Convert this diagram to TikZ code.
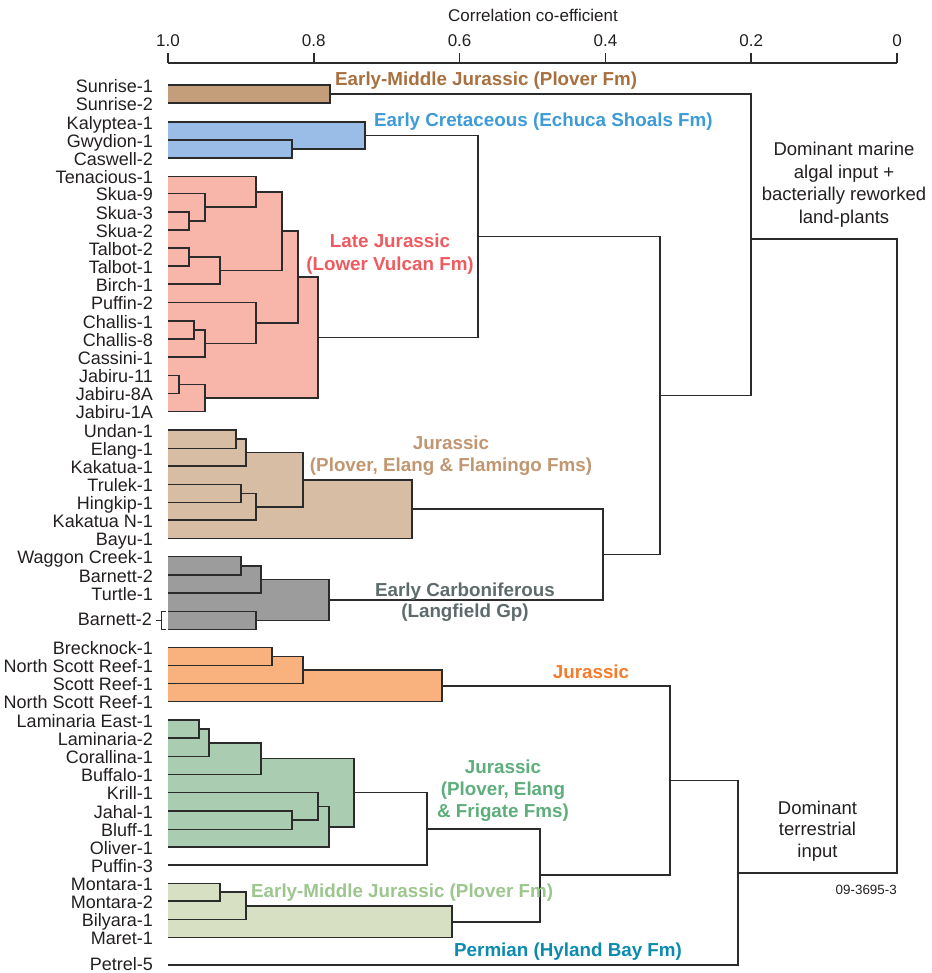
\documentclass[tikz,border=0pt]{standalone}
\usepackage{fontspec}
\setmainfont{Liberation Sans}
\usetikzlibrary{calc}
\pgfdeclarelayer{bg}
\pgfsetlayers{bg,main}
\definecolor{linec}{HTML}{2B2B2B}
\definecolor{txt}{HTML}{231F20}
\definecolor{fSun}{HTML}{C49E7A}
\definecolor{fBlue}{HTML}{99BDE6}
\definecolor{fRed}{HTML}{F8B6AA}
\definecolor{fTan}{HTML}{D6BDA4}
\definecolor{fGrey}{HTML}{9C9C9C}
\definecolor{fOra}{HTML}{F9B27E}
\definecolor{fGrn}{HTML}{AACDB1}
\definecolor{fPale}{HTML}{D7E0C3}
\definecolor{tSun}{HTML}{A8703F}
\definecolor{tBlue}{HTML}{3D9BD8}
\definecolor{tRed}{HTML}{EE5A5F}
\definecolor{tTan}{HTML}{C29670}
\definecolor{tGrey}{HTML}{5E6B6C}
\definecolor{tOra}{HTML}{F47C2C}
\definecolor{tGrn}{HTML}{5DAE7B}
\definecolor{tPale}{HTML}{9CC68E}
\definecolor{tTeal}{HTML}{0B8BB0}
\newcommand\mrg[5]{%
  \path let \p1=($(#3)!0.5!(#4)$) in (#2pt,\y1) coordinate (#1);
  \begin{pgfonlayer}{bg}\path[fill=#5] (#3 -| l0) rectangle (#4 -| #1);\end{pgfonlayer}
  \draw[dline] (#3) -- (#3 -| #1) -- (#4 -| #1) -- (#4);}
\newcommand\mrgy[5]{%
  \coordinate (#1) at (#2,#3);
  \draw[dline] (#4) -- (#4 -| #1) -- (#5 -| #1) -- (#5);}
\tikzset{
  dline/.style={draw=linec, line width=1.65pt, line join=miter},
  leaf/.style={anchor=base east, inner sep=0pt, text=txt, font=\fontsize{18}{20}\selectfont},
  grp/.style={inner sep=0pt, anchor=base, font=\fontsize{18.8}{22}\selectfont\bfseries},
  note/.style={inner sep=0pt, anchor=base, text=txt, font=\fontsize{18.5}{22}\selectfont},
  tickl/.style={inner sep=0pt, anchor=base, text=txt, font=\fontsize{17}{19}\selectfont},
}
\begin{document}
\begin{tikzpicture}[x=1pt,y=-1pt]
\useasboundingbox (0,0) rectangle (931,973);
\coordinate (l0) at (168,0);
% axis
\node[tickl] (title) at (533,21.5) {Correlation co-efficient};
\foreach \k/\lab in {0/1.0,1/0.8,2/0.6,3/0.4,4/0.2,5/0} {
  \coordinate (tick\k) at ({168+\k*145.8},63);
  \draw[dline] (tick\k) -- ++(0,-10);
  \node[tickl] (tl\k) at ({168+\k*145.8},47) {\lab};
}
\draw[dline] (tick0) -- (tick5);
% leaves
\foreach \i/\y/\t in {1/85/Sunrise-1,2/103/Sunrise-2,3/122/Kalyptea-1,4/140/Gwydion-1,5/158/Caswell-2,
 6/176.5/Tenacious-1,7/193.5/Skua-9,8/212/Skua-3,9/230/Skua-2,10/248/Talbot-2,11/266/Talbot-1,12/284/Birch-1,
 13/302.5/Puffin-2,14/321/Challis-1,15/339/Challis-8,16/357/Cassini-1,17/375.5/Jabiru-11,18/393.5/Jabiru-8A,
 19/411.5/Jabiru-1A,20/430/Undan-1,21/448.5/Elang-1,22/466/Kakatua-1,23/484.5/Trulek-1,24/502.5/Hingkip-1,
 25/520/Kakatua N-1,26/538.5/Bayu-1,27/556.5/Waggon Creek-1,28/575/Barnett-2,29/593/Turtle-1,
 31/647.5/Brecknock-1,32/665.5/North Scott Reef-1,33/683.5/Scott Reef-1,34/701.5/North Scott Reef-1,
 35/720/Laminaria East-1,36/738/Laminaria-2,37/756.5/Corallina-1,38/774.5/Buffalo-1,39/792.5/Krill-1,
 40/811/Jahal-1,41/829.5/Bluff-1,42/847/Oliver-1,43/865/Puffin-3,44/883.5/Montara-1,45/901/Montara-2,
 46/919.5/Bilyara-1,47/937.5/Maret-1} {
  \coordinate (l\i) at (168,\y);
  \node[leaf] (n\i) at (153,\y+7.3) {\t};
}
\coordinate (l48) at (168,965);
\node[leaf] (n48) at (153,970.3) {Petrel-5};
\coordinate (l30a) at (168,611.5);
\coordinate (l30b) at (168,629.5);
\node[leaf] (n30) at (152,625.5) {Barnett-2};
\draw[line width=1pt, draw=linec] (165.5,611.5) -- (161,611.5) -- (161,629.5) -- (165.5,629.5);
\draw[line width=1pt, draw=linec] (161,620.5) -- (155.5,620.5);
% Sunrise
\mrg{s}{330}{l1}{l2}{fSun}
% Blue
\mrg{b1}{292}{l4}{l5}{fBlue}
\mrg{b}{365}{l3}{b1}{fBlue}
% Red
\mrg{r1}{189}{l8}{l9}{fRed}
\mrg{r2}{205}{l7}{r1}{fRed}
\mrg{r3}{256}{l6}{r2}{fRed}
\mrg{r4}{189}{l10}{l11}{fRed}
\mrg{r5}{220}{r4}{l12}{fRed}
\mrg{r6}{282}{r3}{r5}{fRed}
\mrg{r7}{194}{l14}{l15}{fRed}
\mrg{r8}{205}{r7}{l16}{fRed}
\mrg{r9}{256}{l13}{r8}{fRed}
\mrg{r10}{298}{r6}{r9}{fRed}
\mrg{r11}{179}{l17}{l18}{fRed}
\mrg{r12}{205}{r11}{l19}{fRed}
\mrg{r}{318}{r10}{r12}{fRed}
\mrg{c1}{478}{b}{r}{none}
% Tan
\mrg{t1}{236}{l20}{l21}{fTan}
\mrg{t2}{246}{t1}{l22}{fTan}
\mrg{t3}{241}{l23}{l24}{fTan}
\mrg{t4}{256}{t3}{l25}{fTan}
\mrg{t5}{303}{t2}{t4}{fTan}
\mrg{t}{412}{t5}{l26}{fTan}
% Grey
\mrg{g1}{241}{l27}{l28}{fGrey}
\mrg{g2}{261}{g1}{l29}{fGrey}
\mrg{g3}{256}{l30a}{l30b}{fGrey}
\mrg{g}{329}{g2}{g3}{fGrey}
\mrg{c2}{603}{t}{g}{none}
\mrg{c3}{660}{c1}{c2}{none}
\mrgy{A}{751}{239}{s}{c3}
% Orange
\mrg{o1}{272}{l31}{l32}{fOra}
\mrg{o2}{303}{o1}{l33}{fOra}
\mrg{o}{442}{o2}{l34}{fOra}
% Green
\mrg{gr1}{199}{l35}{l36}{fGrn}
\mrg{gr2}{209}{gr1}{l37}{fGrn}
\mrg{gr3}{261}{gr2}{l38}{fGrn}
\mrg{gr4}{292}{l40}{l41}{fGrn}
\mrg{gr5}{318}{l39}{gr4}{fGrn}
\mrg{gr6}{329}{gr5}{l42}{fGrn}
\mrg{gr7}{354}{gr3}{gr6}{fGrn}
\mrg{gr}{427}{gr7}{l43}{none}
% Pale green
\mrg{p1}{220}{l44}{l45}{fPale}
\mrg{p2}{246}{p1}{l46}{fPale}
\mrg{p}{452}{p2}{l47}{fPale}
\mrg{c4}{540}{gr}{p}{none}
\mrg{c5}{670}{o}{c4}{none}
\mrg{c6}{738}{c5}{l48}{none}
\mrgy{root}{897}{556}{A}{c6}
% group labels
\node[grp, anchor=base west, text=tSun] (gl1) at (335,85.5) {Early-Middle Jurassic (Plover Fm)};
\node[grp, anchor=base west, text=tBlue] (gl2) at (374,127) {Early Cretaceous (Echuca Shoals Fm)};
\node[grp, text=tRed] (gl3a) at (390,248) {Late Jurassic};
\node[grp, text=tRed] (gl3b) at (390,271) {(Lower Vulcan Fm)};
\node[grp, text=tTan] (gl4a) at (451,449) {Jurassic};
\node[grp, text=tTan] (gl4b) at (451,471) {(Plover, Elang \& Flamingo Fms)};
\node[grp, text=tGrey] (gl5a) at (465,596) {Early Carboniferous};
\node[grp, text=tGrey] (gl5b) at (465,617.5) {(Langfield Gp)};
\node[grp, text=tOra] (gl6) at (591,678) {Jurassic};
\node[grp, text=tGrn] (gl7a) at (503,773) {Jurassic};
\node[grp, text=tGrn] (gl7b) at (503,795) {(Plover, Elang};
\node[grp, text=tGrn] (gl7c) at (503,817) {\& Frigate Fms)};
\node[grp, anchor=base west, text=tPale] (gl8) at (251,897) {Early-Middle Jurassic (Plover Fm)};
\node[grp, anchor=base west, text=tTeal] (gl9) at (454,956) {Permian (Hyland Bay Fm)};
% notes
\node[note] (m1) at (844,156) {Dominant marine};
\node[note] (m2) at (844,178.5) {algal input +};
\node[note] (m3) at (844,201) {bacterially reworked};
\node[note] (m4) at (844,223.5) {land-plants};
\node[note] (d1) at (817.5,814) {Dominant};
\node[note] (d2) at (817.5,835.5) {terrestrial};
\node[note] (d3) at (817.5,857) {input};
\node[note, anchor=base east, font=\fontsize{13.4}{15}\selectfont] (code) at (897,894) {09-3695-3};
\end{tikzpicture}
\end{document}
